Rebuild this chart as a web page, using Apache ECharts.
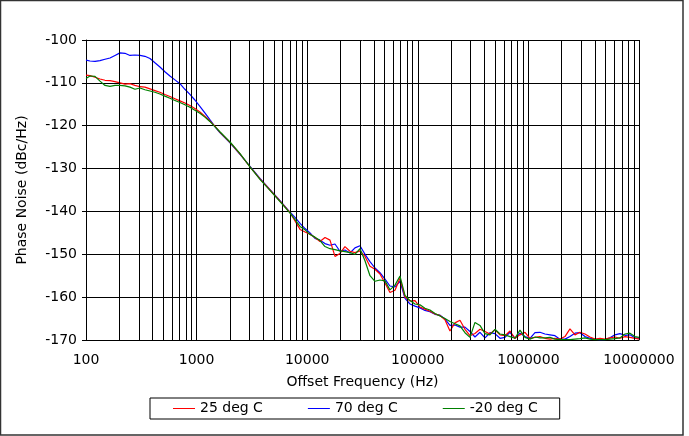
<!DOCTYPE html>
<html>
<head>
<meta charset="utf-8">
<script src="https://cdn.jsdelivr.net/npm/echarts@6/dist/echarts.min.js"></script>
<style>
html,body{margin:0;padding:0;background:#fff;}
#chart{width:689px;height:436px;}
</style>
</head>
<body>
<div id="chart"></div>
<script>
// Offset frequencies (Hz) at which the curves were read
const freqs = [
  100, 108.7, 120.6, 133.8, 148.5, 164.8, 182.8, 202.8, 225, 250,
  277, 308, 341, 379, 420, 466, 517, 574, 637, 707,
  784, 870, 965, 1071, 1188, 1318, 1463, 1623, 2005, 2470,
  3040, 3740, 4610, 5680, 7000, 7760, 8620, 9560, 10600, 11760,
  13050, 14480, 16070, 17830, 19780, 21950, 24360, 27030, 30000, 33300,
  36950, 41000, 45500, 50500, 56000, 62200, 69000, 76600, 85000, 94300,
  104600, 116000, 128800, 143000, 158700, 176000, 195400, 216800, 240600, 267000,
  296300, 328800, 364900, 405000, 449400, 498700, 553400, 614100, 681500, 756200,
  839200, 931300, 1033000, 1147000, 1272000, 1412000, 1567000, 1739000, 1929000, 2141000,
  2376000, 2637000, 2926000, 3247000, 3603000, 3998000, 4437000, 4923000, 5463000, 6063000,
  6728000, 7466000, 8285000, 9190000, 10000000
];

const noise25 = [
  -108.2, -108.3, -108.7, -109.1, -109.4, -109.5, -109.7, -110.0, -110.3, -110.2,
  -110.6, -110.9, -111.0, -111.4, -111.8, -112.2, -112.7, -113.2, -113.7, -114.2,
  -114.7, -115.3, -116.0, -116.8, -117.8, -118.9, -120.1, -121.5, -123.9, -126.6,
  -129.6, -132.4, -135.0, -137.6, -140.3, -142.2, -144.2, -144.8, -145.3, -146.1,
  -147.0, -146.1, -146.7, -150.5, -149.8, -148.2, -149.3, -149.6, -149.2, -150.5,
  -152.8, -153.5, -154.6, -156.7, -158.9, -158.4, -155.6, -160.0, -160.9, -160.8,
  -162.3, -162.8, -163.3, -163.9, -164.3, -165.3, -167.9, -166.0, -165.4, -167.5,
  -169.0, -168.5, -167.5, -168.0, -168.6, -167.6, -168.8, -169.0, -167.9, -169.6,
  -168.8, -168.2, -169.6, -169.4, -169.2, -169.6, -169.8, -169.6, -169.8, -169.2,
  -167.4, -168.8, -168.2, -168.6, -169.3, -169.8, -169.6, -169.8, -169.5, -169.3,
  -169.6, -169.2, -169.4, -169.6, -169.8
];

const noise70 = [
  -104.7, -104.9, -105.0, -104.8, -104.5, -104.2, -103.6, -103.0, -103.1, -103.6,
  -103.5, -103.6, -103.8, -104.3, -105.3, -106.3, -107.4, -108.4, -109.3, -110.2,
  -111.5, -112.7, -114.0, -115.5, -117.0, -118.6, -120.2, -121.6, -124.0, -126.7,
  -129.5, -132.3, -134.9, -137.5, -140.2, -141.4, -142.8, -144.0, -145.0, -146.3,
  -146.7, -147.5, -147.9, -147.6, -149.3, -149.0, -149.7, -148.5, -148.0, -150.0,
  -151.7, -153.2, -154.3, -155.8, -157.4, -157.6, -156.3, -160.3, -161.6, -162.1,
  -162.5, -163.1, -163.4, -164.0, -164.2, -165.1, -166.6, -166.5, -167.0, -167.0,
  -168.0, -169.3, -168.2, -169.5, -168.3, -168.5, -169.6, -169.4, -168.2, -169.6,
  -168.4, -169.2, -169.6, -168.3, -168.2, -168.6, -168.8, -169.0, -169.8, -169.8,
  -169.2, -168.4, -168.3, -169.2, -169.6, -169.8, -170.0, -169.9, -169.5, -168.8,
  -168.5, -168.9, -168.8, -169.5, -169.6
];

const noiseMinus20 = [
  -109.0, -108.4, -108.5, -109.6, -110.6, -110.8, -110.6, -110.6, -110.7, -111.0,
  -111.5, -111.2, -111.6, -111.9, -112.2, -112.6, -113.1, -113.6, -114.1, -114.6,
  -115.1, -115.7, -116.4, -117.1, -118.0, -119.0, -120.2, -121.4, -123.8, -126.5,
  -129.6, -132.5, -135.1, -137.7, -140.4, -141.9, -143.5, -144.3, -145.4, -146.0,
  -146.8, -148.2, -148.7, -148.9, -149.2, -149.4, -149.6, -150.0, -148.7, -151.5,
  -155.0, -156.3, -156.0, -156.2, -158.3, -157.2, -155.1, -159.6, -160.8, -161.6,
  -161.8, -162.6, -163.0, -163.8, -164.4, -165.0, -165.7, -166.2, -166.7, -168.3,
  -169.4, -165.9, -166.6, -168.5, -168.8, -167.5, -168.6, -168.8, -169.2, -169.6,
  -167.7, -169.4, -169.8, -169.3, -169.5, -169.5, -169.4, -169.8, -169.9, -169.9,
  -169.9, -169.8, -169.7, -169.5, -169.8, -169.9, -169.9, -169.9, -169.8, -169.7,
  -169.5, -168.6, -168.4, -169.2, -169.4
];

const seriesNames = ['25 deg C', '70 deg C', '-20 deg C'];
const seriesColors = ['#ff0000', '#0000ff', '#008000'];
const xTickLabels = ['100', '1000', '10000', '100000', '1000000', '10000000'];
const yTicks = [-170, -160, -150, -140, -130, -120, -110, -100];

// minor vertical grid lines at 2..9 x each decade
const minorGrid = [];
[100, 1000, 10000, 100000, 1000000].forEach(d => {
  for (let k = 2; k <= 9; k++) minorGrid.push({ xAxis: d * k });
});

function pairs(vals) { return freqs.map((f, i) => [f, vals[i]]); }

const font = 'DejaVu Sans, Verdana, sans-serif';
const chart = echarts.init(document.getElementById('chart'), null, { renderer: 'canvas' });

const lineSeries = [noise25, noise70, noiseMinus20].map((vals, i) => ({
  name: seriesNames[i],
  type: 'line',
  data: pairs(vals),
  symbol: 'none',
  showSymbol: false,
  smooth: false,
  clip: true,
  z: 3 + (i === 1 ? 0 : i === 0 ? 1 : 2),
  lineStyle: { color: seriesColors[i], width: 1.2 },
  itemStyle: { color: seriesColors[i] }
}));

lineSeries.push({
  name: 'grid',
  type: 'line',
  data: [],
  silent: true,
  markLine: {
    silent: true,
    symbol: 'none',
    label: { show: false },
    lineStyle: { color: '#000', width: 1, type: 'solid' },
    emphasis: { disabled: true },
    data: minorGrid,
    animation: false
  }
});

chart.setOption({
  animation: false,
  backgroundColor: '#fff',
  textStyle: { fontFamily: font },
  graphic: [{
    type: 'rect',
    shape: { x: 0.5, y: 0.5, width: 682.5, height: 434.5 },
    style: { fill: null, stroke: '#333', lineWidth: 1.5 },
    silent: true,
    z: 100
  }],
  grid: { left: 86, right: 50, top: 40, bottom: 96, containLabel: false },
  legend: {
    data: seriesNames.map((n, i) => ({ name: n, icon: 'rect', itemStyle: { color: seriesColors[i] } })),
    left: 150,
    top: 398,
    orient: 'horizontal',
    itemWidth: 22,
    itemHeight: 1,
    itemGap: 45,
    padding: [3, 22, 3, 23],
    borderColor: '#000',
    borderWidth: 1,
    textStyle: { fontFamily: font, fontSize: 14, color: '#000', lineHeight: 15 }
  },
  xAxis: {
    type: 'log',
    logBase: 10,
    min: 100,
    max: 10000000,
    name: 'Offset Frequency (Hz)',
    nameLocation: 'middle',
    nameGap: 35,
    nameTextStyle: { fontFamily: font, fontSize: 14, color: '#000' },
    axisLine: { show: true, lineStyle: { color: '#000', width: 1 } },
    axisTick: { show: false },
    axisLabel: {
      fontFamily: font, fontSize: 14, color: '#000', margin: 13,
      formatter: v => {
        const idx = Math.round(Math.log10(v)) - 2;
        return xTickLabels[idx] !== undefined ? xTickLabels[idx] : '';
      }
    },
    splitLine: { show: true, lineStyle: { color: '#000', width: 1 } },
    minorTick: { show: false },
    minorSplitLine: { show: false }
  },
  yAxis: {
    type: 'value',
    min: yTicks[0],
    max: yTicks[yTicks.length - 1],
    interval: 10,
    name: 'Phase Noise (dBc/Hz)',
    nameLocation: 'middle',
    nameGap: 57,
    nameTextStyle: { fontFamily: font, fontSize: 14, color: '#000' },
    axisLine: { show: true, lineStyle: { color: '#000', width: 1 } },
    axisTick: { show: true, length: 4, inside: false, lineStyle: { color: '#000' } },
    axisLabel: { fontFamily: font, fontSize: 14, color: '#000', margin: 9 },
    splitLine: { show: true, lineStyle: { color: '#000', width: 1 } }
  },
  series: lineSeries
});
</script>
</body>
</html>
